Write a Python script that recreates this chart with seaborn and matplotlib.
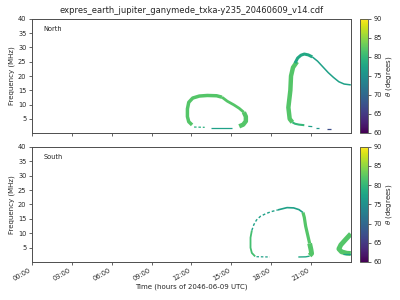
import numpy as np
import pandas as pd
import matplotlib
matplotlib.use("Agg")
import matplotlib.pyplot as plt
import seaborn as sns
from matplotlib.colors import Normalize
from matplotlib.cm import ScalarMappable

# ---------------- data (hours of day, frequency MHz, theta degrees) ----------------
title = "expres_earth_jupiter_ganymede_txka-y235_20460609_v14.cdf"
hour_ticks = [0, 3, 6, 9, 12, 15, 18, 21]
hour_labels = ["00:00", "03:00", "06:00", "09:00", "12:00", "15:00", "18:00", "21:00"]
freq_ticks = [5, 10, 15, 20, 25, 30, 35, 40]
theta_ticks = [60, 65, 70, 75, 80, 85, 90]

# North hemisphere
n_loop_left_h = [12.05, 11.8, 11.7, 11.7, 11.8, 12.1, 12.6, 13.2, 13.9, 14.3]
n_loop_left_f = [2.9, 4.0, 5.8, 8.5, 10.8, 12.3, 13.0, 13.2, 13.1, 12.6]
n_loop_right_h = [14.3, 14.7, 15.2, 15.6, 15.95]
n_loop_right_f = [12.6, 11.2, 9.9, 8.7, 7.3]
n_loop_end_h = [15.95, 16.1, 16.1, 15.9, 15.6]
n_loop_end_f = [7.3, 5.8, 4.2, 3.0, 2.4]
n_loop_bottom_h = [13.5, 15.05]
n_loop_bottom_f = [1.85, 1.85]
n_loop_dash_h = [12.2, 13.0]
n_loop_dash_f = [2.15, 2.05]

n_arc_left_h = [19.95, 19.65, 19.5, 19.45, 19.35, 19.3, 19.35, 19.4, 19.6]
n_arc_left_f = [25.0, 23.0, 20.0, 15.0, 11.0, 9.0, 7.0, 5.0, 3.8]
n_arc_top_h = [19.8, 20.0, 20.25, 20.5, 20.8, 21.1]
n_arc_top_f = [24.5, 26.3, 27.3, 27.7, 27.4, 26.7]
n_arc_tail_h = [21.1, 21.5, 21.9, 22.3, 22.7, 23.1, 23.5, 24.0]
n_arc_tail_f = [26.7, 25.2, 23.2, 21.2, 19.5, 18.0, 17.2, 16.9]
n_arc_low_h = [19.6, 19.8, 20.1, 20.5]
n_arc_low_f = [3.8, 3.3, 3.0, 2.8]
n_dash1_h = [20.8, 21.1]
n_dash1_f = [2.4, 2.3]
n_dash2_h = [21.4, 21.6]
n_dash2_f = [1.8, 1.8]
n_dash3_h = [22.2, 22.5]
n_dash3_f = [1.4, 1.4]

# South hemisphere
s_left_h = [16.8, 16.55, 16.45, 16.45, 16.55]
s_left_f = [2.0, 3.2, 5.0, 8.5, 11.0]
s_upper_h = [16.55, 16.7, 16.9, 17.2, 17.6, 18.0, 18.5]
s_upper_f = [11.0, 13.0, 14.6, 15.9, 16.8, 17.5, 18.1]
s_top_h = [18.5, 19.2, 19.7, 20.1, 20.4]
s_top_f = [18.1, 18.9, 18.8, 18.2, 17.2]
s_right_h = [20.4, 20.5, 20.6, 20.75, 20.9]
s_right_f = [17.2, 15.5, 12.5, 9.5, 6.5]
s_end_h = [20.9, 21.0, 21.05, 20.9]
s_end_f = [6.5, 4.4, 3.0, 2.3]
s_tail_h = [20.05, 20.6, 20.9]
s_tail_f = [1.8, 1.85, 2.1]
s_dash_h = [16.9, 17.9]
s_dash_f = [1.9, 1.8]
s_blob_h = [24.0, 23.6, 23.25, 23.1, 23.3, 23.7, 24.0]
s_blob_f = [9.8, 7.8, 6.0, 4.6, 3.6, 3.1, 3.0]
s_blob_edge_h = [23.4, 24.0]
s_blob_edge_f = [2.7, 2.7]

# (hours, freqs, theta, width, dashed)
north_segments = [
    (n_loop_left_h, n_loop_left_f, 82, 2.5, False),
    (n_loop_right_h, n_loop_right_f, 82, 2.0, False),
    (n_loop_end_h, n_loop_end_f, 82, 3.2, False),
    (n_loop_bottom_h, n_loop_bottom_f, 77, 0.9, False),
    (n_loop_dash_h, n_loop_dash_f, 79, 0.9, True),
    (n_arc_left_h, n_arc_left_f, 82, 3.2, False),
    (n_arc_top_h, n_arc_top_f, 78, 2.2, False),
    (n_arc_tail_h, n_arc_tail_f, 77, 1.1, False),
    (n_arc_low_h, n_arc_low_f, 80, 1.5, False),
    (n_dash1_h, n_dash1_f, 77, 0.9, False),
    (n_dash2_h, n_dash2_f, 76, 0.9, False),
    (n_dash3_h, n_dash3_f, 67, 0.9, False),
]
south_segments = [
    (s_left_h, s_left_f, 81, 1.3, False),
    (s_upper_h, s_upper_f, 77, 1.0, True),
    (s_top_h, s_top_f, 77, 1.2, False),
    (s_right_h, s_right_f, 82, 2.3, False),
    (s_end_h, s_end_f, 82, 3.5, False),
    (s_tail_h, s_tail_f, 78, 1.0, False),
    (s_dash_h, s_dash_f, 77, 0.9, True),
    (s_blob_h, s_blob_f, 82, 3.5, False),
    (s_blob_edge_h, s_blob_edge_f, 77, 0.9, False),
]

# ---------------- figure ----------------
sns.set_theme(style="ticks")
plt.rcParams['font.family'] = ['DejaVu Sans']
plt.rcParams['axes.edgecolor'] = '0.3'
plt.rcParams['axes.linewidth'] = 0.7

cmap = plt.get_cmap("viridis")
norm = Normalize(60, 90)

fig = plt.figure(figsize=(4, 3), dpi=100)
ax_n = fig.add_axes([0.08, 0.557, 0.797, 0.38])
ax_s = fig.add_axes([0.08, 0.127, 0.797, 0.384])
cax_n = fig.add_axes([0.9, 0.557, 0.019, 0.38])
cax_s = fig.add_axes([0.9, 0.127, 0.019, 0.384])

for ax, segs, name in [(ax_n, north_segments, "North"), (ax_s, south_segments, "South")]:
    for hh, ff, th, lw, dashed in segs:
        df = pd.DataFrame({"h": hh, "f": ff})
        kws = dict(solid_capstyle="butt")
        if dashed:
            kws["linestyle"] = (0, (2, 1.5))
        sns.lineplot(data=df, x="h", y="f", sort=False, estimator=None,
                     color=cmap(norm(th)), linewidth=lw, ax=ax, **kws)
    ax.set_xlim(0, 24)
    ax.set_ylim(0.1, 40)
    ax.set_yticks(freq_ticks)
    ax.set_xticks(hour_ticks)
    ax.tick_params(labelsize=4.8, length=2.5, width=0.5, pad=1.5)
    ax.set_ylabel("Frequency (MHz)", fontsize=5, labelpad=2)
    ax.text(0.035, 0.91, name, transform=ax.transAxes, fontsize=4.8, va="center", ha="left")

ax_n.set_xticklabels([])
ax_n.set_xlabel("")
ax_n.set_title(title, fontsize=6, pad=4)
ax_s.set_xticklabels(hour_labels, rotation=30, ha="right")
ax_s.set_xlabel("Time (hours of 2046-06-09 UTC)", fontsize=5, labelpad=1)

for cax in (cax_n, cax_s):
    cb = fig.colorbar(ScalarMappable(norm=norm, cmap=cmap), cax=cax)
    cb.set_ticks(theta_ticks)
    cb.ax.tick_params(labelsize=4.8, length=2.5, width=0.5, pad=1.5)
    cb.outline.set_linewidth(0.6)
    cb.set_label(r"$\theta$ (degrees)", fontsize=5, labelpad=2)

fig.savefig("out.png", dpi=100)
